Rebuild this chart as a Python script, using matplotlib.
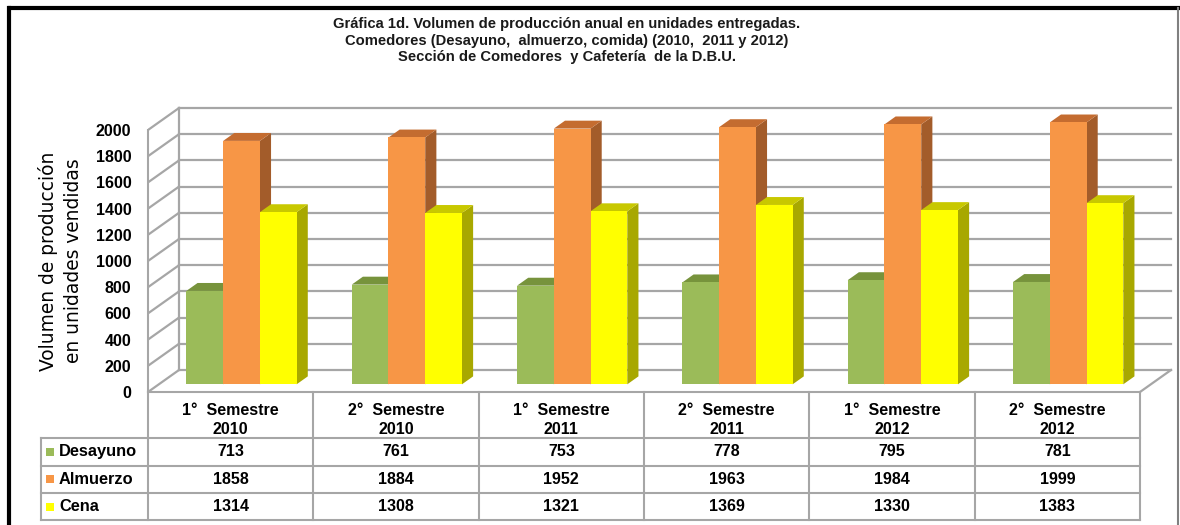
import matplotlib
matplotlib.use("Agg")
import matplotlib.pyplot as plt
from matplotlib.patches import Polygon, Rectangle
from matplotlib.lines import Line2D

categories = ["1°  Semestre\n2010", "2°  Semestre\n2010", "1°  Semestre\n2011",
              "2°  Semestre\n2011", "1°  Semestre\n2012", "2°  Semestre\n2012"]
series_names = ["Desayuno", "Almuerzo", "Cena"]
desayuno = [713, 761, 753, 778, 795, 781]
almuerzo = [1858, 1884, 1952, 1963, 1984, 1999]
cena = [1314, 1308, 1321, 1369, 1330, 1383]
y_ticks = [0, 200, 400, 600, 800, 1000, 1200, 1400, 1600, 1800, 2000]

title = ("Gráfica 1d. Volumen de producción anual en unidades entregadas.\n"
         "Comedores (Desayuno,  almuerzo, comida) (2010,  2011 y 2012)\n"
         "Sección de Comedores  y Cafetería  de la D.B.U.")
y_label = "Volumen de producción\nen unidades vendidas"

# colours: front, top, side
FRONT = ["#9BBB59", "#F79646", "#FFFF00"]
TOP = ["#77933C", "#C46C30", "#C8C800"]
SIDE = ["#6F8A36", "#A35C2A", "#A8A800"]
GRID = "#A6A6A6"

W, H = 1180, 525
CAT_PX = 992 / 6          # pixels per category
UNIT_PX = 262 / 2000      # pixels per unit of value
DX = 31 / CAT_PX          # depth offset of back wall (x)
DY = 22 / UNIT_PX         # depth offset of back wall (y)
BAR_D0, BAR_D1 = 0.35, 0.71
BAR_W = 0.2222
BAR_OFF = 0.1667

FONT = "Liberation Sans"

fig = plt.figure(figsize=(W / 100, H / 100), dpi=100)
fig.patch.set_facecolor("white")


def proj(x, v, d):
    return (x + d * DX, v + d * DY)


# main plot area
ax_l, ax_r, ax_t, ax_b = 148, 1175, 95, 392
ax = fig.add_axes([ax_l / W, 1 - ax_b / H, (ax_r - ax_l) / W, (ax_b - ax_t) / H])
ax.set_xlim(0, (ax_r - ax_l) / CAT_PX)
ax.set_ylim(0, (ax_b - ax_t) / UNIT_PX)
ax.patch.set_alpha(0)
for s in ["top", "right", "bottom"]:
    ax.spines[s].set_visible(False)
ax.spines["left"].set_bounds(0, y_ticks[-1])
ax.spines["left"].set_color(GRID)
ax.spines["left"].set_linewidth(1.5)
ax.set_xticks([])
ax.set_yticks(y_ticks)
ax.set_yticklabels([str(t) for t in y_ticks], fontfamily=FONT,
                   fontweight="bold", fontsize=11.5)
ax.tick_params(axis="y", length=0, pad=12)

n = len(categories)
# back wall and side wall gridlines
for v in y_ticks:
    p0, p1 = proj(0, v, 1), proj(n, v, 1)
    ax.add_line(Line2D([p0[0], p1[0]], [p0[1], p1[1]], color=GRID, lw=1.6, zorder=1))
    q0, q1 = proj(0, v, 0), proj(0, v, 1)
    ax.add_line(Line2D([q0[0], q1[0]], [q0[1], q1[1]], color=GRID, lw=1.6, zorder=1))
b0, b1 = proj(0, 0, 1), proj(0, y_ticks[-1], 1)
ax.add_line(Line2D([b0[0], b1[0]], [b0[1], b1[1]], color=GRID, lw=1.6, zorder=1))
f0, f1 = proj(n, 0, 0), proj(n, 0, 1)
ax.add_line(Line2D([f0[0], f1[0]], [f0[1], f1[1]], color=GRID, lw=1.6, zorder=1,
                   clip_on=False))

# bars
series = [desayuno, almuerzo, cena]
z = 2
for i in range(n):
    for j, vals in enumerate(series):
        v = vals[i]
        x0 = i + BAR_OFF + j * BAR_W
        x1 = x0 + BAR_W
        side = [proj(x1, 0, BAR_D0), proj(x1, 0, BAR_D1), proj(x1, v, BAR_D1), proj(x1, v, BAR_D0)]
        top = [proj(x0, v, BAR_D0), proj(x1, v, BAR_D0), proj(x1, v, BAR_D1), proj(x0, v, BAR_D1)]
        front = [proj(x0, 0, BAR_D0), proj(x1, 0, BAR_D0), proj(x1, v, BAR_D0), proj(x0, v, BAR_D0)]
        ax.add_patch(Polygon(side, closed=True, facecolor=SIDE[j], edgecolor="none", zorder=z))
        ax.add_patch(Polygon(top, closed=True, facecolor=TOP[j], edgecolor="none", zorder=z))
        ax.add_patch(Polygon(front, closed=True, facecolor=FRONT[j], edgecolor="none", zorder=z))
        z += 1

# data table under the plot
tax = fig.add_axes([ax_l / W, 1 - 520 / H, (1140 - ax_l) / W, 128 / H])
tax.set_xlim(0, n)
tax.set_ylim(128, 0)
tax.axis("off")
rows = [0, 46, 73.5, 101, 128]
left = -107 / CAT_PX
kw = dict(color=GRID, lw=1.5, clip_on=False)
tax.add_line(Line2D([0, n], [rows[0], rows[0]], **kw))
for r in rows[1:]:
    tax.add_line(Line2D([left, n], [r, r], **kw))
tax.add_line(Line2D([left, left], [rows[1], rows[-1]], **kw))
for i in range(n + 1):
    tax.add_line(Line2D([i, i], [rows[0], rows[-1]], **kw))

tkw = dict(fontfamily=FONT, fontweight="bold", fontsize=11.5, ha="center", va="center")
for i, cat in enumerate(categories):
    tax.text(i + 0.5, (rows[0] + rows[1]) / 2 + 5, cat, linespacing=1.3, **tkw)
    for j, vals in enumerate(series):
        tax.text(i + 0.5, (rows[j + 1] + rows[j + 2]) / 2, str(vals[i]), **tkw)

for j, name in enumerate(series_names):
    yc = (rows[j + 1] + rows[j + 2]) / 2
    tax.add_patch(Rectangle((-102 / CAT_PX, yc - 4), 8 / CAT_PX, 8,
                            facecolor=FRONT[j], edgecolor="none", clip_on=False))
    tax.text(-89 / CAT_PX, yc, name, fontfamily=FONT, fontweight="bold",
             fontsize=11.8, ha="left", va="center")

# titles
fig.text(567 / W, 1 - 40.5 / H, title, ha="center", va="center", fontfamily=FONT,
         fontweight="bold", fontsize=10.6, linespacing=1.27, color="#1A1A1A")
fig.text(61 / W, 1 - 261 / H, y_label, rotation=90, ha="center", va="center",
         fontfamily="DejaVu Sans", fontsize=13.4, linespacing=1.4)

# frame of the picture
fig.add_artist(Line2D([10 / W, 1], [1 - 8 / H, 1 - 8 / H], color="black", lw=3,
                      transform=fig.transFigure))
fig.add_artist(Line2D([9 / W, 9 / W], [0, 1 - 8 / H], color="black", lw=3,
                      transform=fig.transFigure))
fig.add_artist(Line2D([1178 / W, 1178 / W], [0, 1 - 8 / H], color="#808080", lw=1.5,
                      transform=fig.transFigure))

fig.savefig("out.png", dpi=100)
